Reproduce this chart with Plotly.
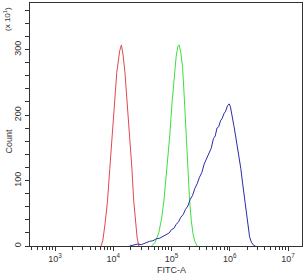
import numpy as np
import plotly.graph_objects as go

# log10(FITC-A) positions and counts
red_log = [3.79, 3.82, 3.86, 3.90, 3.94, 3.98, 4.02, 4.06, 4.08, 4.11, 4.14, 4.17, 4.20, 4.24, 4.28, 4.32, 4.35, 4.38, 4.41, 4.44]
red_cnt = [0, 8, 35, 68, 118, 169, 220, 265, 278, 298, 307, 290, 265, 220, 169, 118, 70, 38, 12, 0]

green_log = [4.66, 4.72, 4.78, 4.83, 4.87, 4.92, 4.97, 5.01, 5.05, 5.08, 5.11, 5.13, 5.16, 5.19, 5.22, 5.25, 5.28, 5.31, 5.34, 5.37, 5.40, 5.44]
green_cnt = [0, 6, 20, 42, 70, 115, 169, 220, 268, 290, 305, 307, 295, 272, 225, 172, 118, 70, 38, 18, 7, 0]

blue_log = [4.28, 4.35, 4.42, 4.48, 4.55, 4.62, 4.68, 4.74, 4.80, 4.86, 4.91, 4.96, 5.00, 5.04, 5.08, 5.12,
            5.16, 5.20, 5.24, 5.28, 5.32, 5.36, 5.40, 5.44, 5.48, 5.52, 5.56, 5.60, 5.64, 5.68, 5.72, 5.75,
            5.78, 5.81, 5.84, 5.87, 5.90, 5.93, 5.96, 5.99, 6.01, 6.03, 6.05, 6.07, 6.10, 6.13, 6.16, 6.19,
            6.22, 6.25, 6.28, 6.31, 6.34, 6.37, 6.41, 6.44]
blue_cnt = [0, 1, 3, 2, 5, 7, 8, 11, 12, 15, 17, 20, 25, 27, 33, 37,
            44, 48, 56, 61, 71, 77, 88, 95, 105, 112, 125, 133, 141, 149, 164, 168,
            180, 182, 191, 195, 202, 206, 214, 217, 213, 205, 193, 184, 168, 153, 134, 118,
            96, 75, 48, 29, 14, 6, 1, 0]

x_major = [3, 4, 5, 6, 7]
x_major_text = ["10<sup>3</sup>", "10<sup>4</sup>", "10<sup>5</sup>", "10<sup>6</sup>", "10<sup>7</sup>"]
y_major = [0, 100, 200, 300]

fig = go.Figure()
for lg, cnt, col in [(red_log, red_cnt, "#e0484e"), (green_log, green_cnt, "#3ede3e"), (blue_log, blue_cnt, "#2b2ba8")]:
    fig.add_trace(go.Scatter(x=10 ** np.array(lg), y=cnt, mode="lines",
                             line=dict(color=col, width=1), showlegend=False))

minor_x = [k * 10 ** d for d in range(2, 8) for k in range(2, 10)]
minor_x = [v for v in minor_x if 10 ** 2.57 < v < 10 ** 7.24]

fig.update_layout(
    width=305, height=275,
    margin=dict(l=30, r=3, t=3, b=29),
    plot_bgcolor="white", paper_bgcolor="white",
    font=dict(family="Liberation Sans, Arial, sans-serif", size=9, color="#333333"),
    xaxis=dict(type="log", range=[2.57, 7.24], showgrid=False, zeroline=False,
               showline=True, linecolor="#333333", linewidth=1, mirror=True,
               tickmode="array", tickvals=[10 ** v for v in x_major], ticktext=x_major_text,
               ticks="outside", ticklen=4, tickcolor="#333333",
               minor=dict(tickmode="array", tickvals=minor_x, ticks="outside", ticklen=3, tickcolor="#333333"),
               tickfont=dict(size=9)),
    yaxis=dict(range=[0, 371], showgrid=False, zeroline=False,
               showline=True, linecolor="#333333", linewidth=1, mirror=True,
               tickmode="array", tickvals=y_major, ticks="outside", ticklen=4, tickcolor="#333333",
               minor=dict(tickmode="linear", tick0=0, dtick=20, ticks="outside", ticklen=4, tickcolor="#333333"),
               tickangle=-90, tickfont=dict(size=9)),
    annotations=[
        dict(text="Count", xref="paper", yref="paper", x=0, y=0.43, xshift=-21, textangle=-90,
             showarrow=False, font=dict(size=9), xanchor="center", yanchor="middle"),
        dict(text="FITC-A", xref="paper", yref="paper", x=0.52, y=0, yshift=-24,
             showarrow=False, font=dict(size=9), xanchor="center", yanchor="middle"),
        dict(text="(x 10<sup>1</sup>)", xref="paper", yref="paper", x=0, y=1, xshift=-23, yshift=-16,
             textangle=-90, showarrow=False, font=dict(size=8), xanchor="center", yanchor="middle"),
    ],
)

fig.write_html("out.html")
